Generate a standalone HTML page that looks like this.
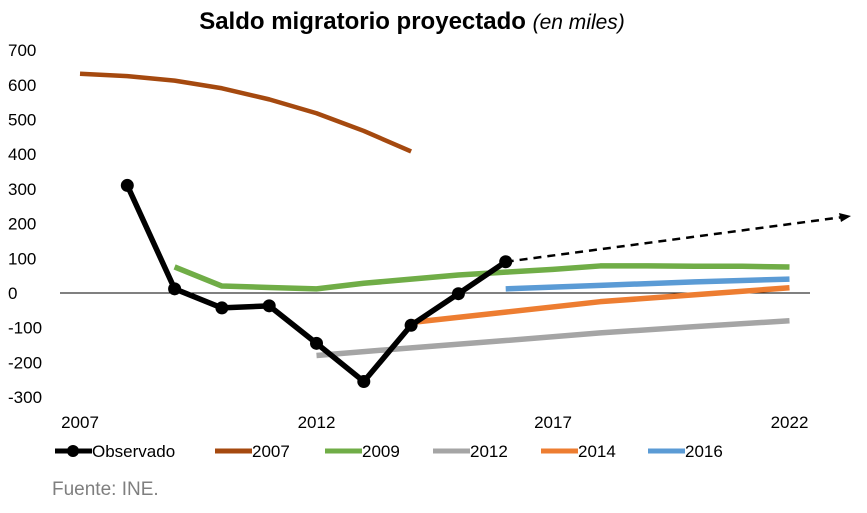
<!DOCTYPE html>
<html><head><meta charset="utf-8"><style>
body{margin:0;width:867px;height:508px;background:#fff;overflow:hidden;font-family:"Liberation Sans",sans-serif}
</style></head><body>
<svg width="867" height="508">
<text x="412" y="29" text-anchor="middle" font-size="24" font-weight="bold" fill="#000">Saldo migratorio proyectado <tspan font-weight="normal" font-style="italic" font-size="21">(en miles)</tspan></text>
<g id="yt"></g>
<g id="xt"></g>
<g id="series"></g>
<g id="legend"></g>
<text x="52" y="495" font-size="19" fill="#7f7f7f">Fuente: INE.</text>
</svg>
<script>
const yTicks=[700,600,500,400,300,200,100,0,-100,-200,-300];
const xTicks=[2007,2012,2017,2022];
const obsYears=[2008,2009,2010,2011,2012,2013,2014,2015,2016];
const obsVals=[310,12,-43,-37,-145,-255,-93,-2,90];
const trendYears=[2016,2023.3];
const trendVals=[90,222];
const y2007=[2007,2008,2009,2010,2011,2012,2013,2014];
const v2007=[632,625,612,590,558,518,467,408];
const y2009=[2009,2010,2011,2012,2013,2014,2015,2016,2017,2018,2019,2020,2021,2022];
const v2009=[75,20,16,12,28,40,52,60,68,78,78,77,77,75];
const y2012=[2012,2014,2016,2018,2020,2022];
const v2012=[-180,-158,-137,-115,-97,-80];
const y2014=[2014,2016,2018,2020,2022];
const v2014=[-85,-55,-25,-5,15];
const y2016=[2016,2018,2020,2022];
const v2016=[12,22,32,40];
const NS="http://www.w3.org/2000/svg";
const X=v=>80+(v-2007)*47.3;
const Y=v=>293-v*0.347;
function mk(t,a,p){const e=document.createElementNS(NS,t);for(const k in a)e.setAttribute(k,a[k]);p.appendChild(e);return e;}
const yt=document.getElementById('yt'),xt=document.getElementById('xt'),sg=document.getElementById('series'),lg=document.getElementById('legend');
yTicks.forEach(v=>{const t=mk('text',{x:8,y:Y(v)+6,'font-size':17,fill:'#000'},yt);t.textContent=v;

});
const zl=mk('line',{x1:60,x2:810,y1:Y(0),y2:Y(0),stroke:'#000','stroke-width':1},yt);


xTicks.forEach(v=>{const t=mk('text',{x:X(v),y:428,'font-size':17,'text-anchor':'middle',fill:'#000'},xt);t.textContent=v;

});
function line(ys,vs,col,w,name,extra){const p=mk('polyline',Object.assign({points:ys.map((y,i)=>X(y)+','+Y(vs[i])).join(' '),fill:'none',stroke:col,'stroke-width':w,'stroke-linejoin':'round'},extra||{}),sg);

return p;}
line(y2007,v2007,'#a5490f',4.5,'line-2007');
line(y2009,v2009,'#70ad47',5.5,'line-2009');
line(y2012,v2012,'#a5a5a5',5.5,'line-2012');
line(y2014,v2014,'#ed7d31',5.5,'line-2014');
line(y2016,v2016,'#5b9bd5',5.5,'line-2016');
line(trendYears,trendVals,'#000',2.5,'trend-dashed',{'stroke-dasharray':'8,6'});
const x2=X(trendYears[1]),y2=Y(trendVals[1]);
const ah=mk('polygon',{points:`${x2},${y2} ${x2-12},${y2-3} ${x2-10},${y2+6}`,fill:'#000'},sg);


line(obsYears,obsVals,'#000',5.5,'line-observado');
obsYears.forEach((y,i)=>{const c=mk('circle',{cx:X(y),cy:Y(obsVals[i]),r:6.5,fill:'#000'},sg);

});
const leg=[['Observado','#000',55],['2007','#a5490f',215],['2009','#70ad47',325],['2012','#a5a5a5',433],['2014','#ed7d31',541],['2016','#5b9bd5',648]];
leg.forEach(([n,c,x])=>{const g=mk('g',{},lg);


mk('line',{x1:x,x2:x+37,y1:451,y2:451,stroke:c,'stroke-width':5},g);
if(n==='Observado')mk('circle',{cx:x+18,cy:451,r:6,fill:'#000'},g);
const t=mk('text',{x:x+37,y:457,'font-size':17,fill:'#000'},g);t.textContent=n;});
</script>
</body></html>
